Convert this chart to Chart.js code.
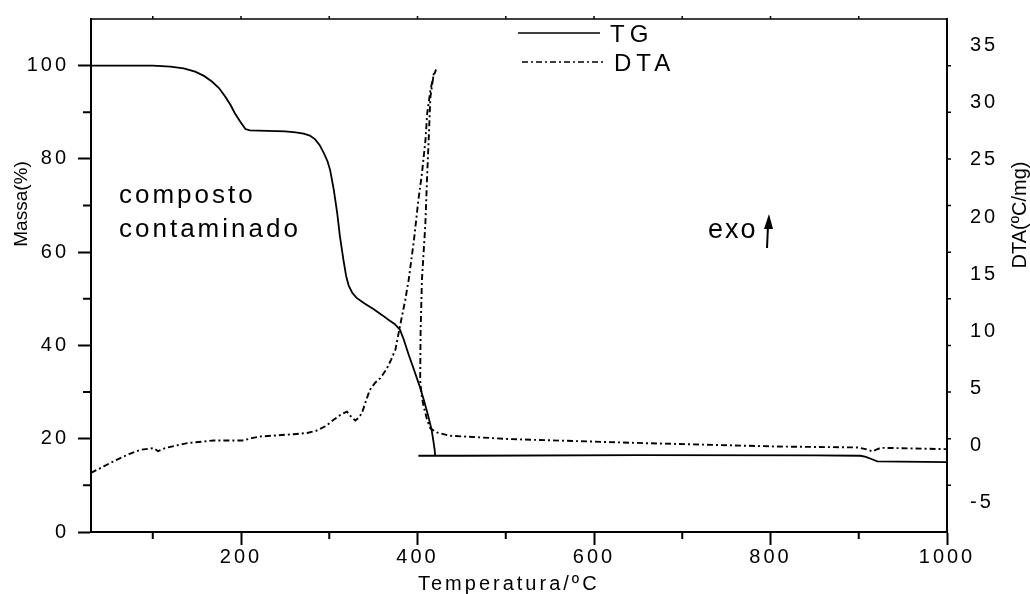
<!DOCTYPE html>
<html lang="pt">
<head>
<meta charset="UTF-8">
<title>TG / DTA - composto contaminado</title>
<script src="https://cdn.jsdelivr.net/npm/chart.js@4.4.0/dist/chart.umd.min.js"></script>
<style>
  body { margin: 0; background: #fff; }
  #wrap { width: 1030px; height: 594px; }
</style>
</head>
<body>
<div id="wrap"><canvas id="tgdta" width="1030" height="594"></canvas></div>
<script>
// curva TG: temperatura (ºC) e massa (%)
var tgTemp  = [30, 100, 120, 135, 148, 158, 167, 175, 182, 188, 193, 199, 205, 210, 230, 250, 262, 271, 278, 284, 289, 294, 298, 301, 305, 309, 312, 316, 319, 322, 326, 331, 340, 350, 360, 367, 374, 380, 384, 390, 396, 402, 407, 412, 416, 418, 419.5, 420, 401, 450, 650, 850, 902, 908, 915, 921, 1000];
var tgMassa = [100, 100, 99.8, 99.4, 98.7, 97.8, 96.6, 95.2, 93.4, 91.6, 89.8, 88, 86.4, 86.1, 86, 85.9, 85.7, 85.4, 85, 84.2, 83, 81.2, 79.5, 77.6, 73.5, 68.4, 63.5, 58.4, 55, 52.8, 51.3, 50.2, 49, 47.8, 46.5, 45.5, 44.6, 43.4, 41.5, 38, 34.8, 31.5, 28.4, 25, 21.9, 19.5, 17.5, 16.4, 16.35, 16.35, 16.5, 16.45, 16.35, 16.1, 15.6, 15.15, 15.0];

// curva DTA: temperatura (ºC) e sinal (ºC/mg)
var dtaTemp  = [30, 45, 59, 73, 86, 101, 106, 115, 139, 169, 203, 212, 222, 260, 275, 286, 296, 305, 313, 320, 325, 329.5, 333, 337, 342, 346, 352, 358, 365, 370, 375, 380, 386, 390, 396, 401, 405, 409, 411, 414.6, 418, 421, 418.3, 414.6, 412.6, 410.7, 408.9, 405, 403.5, 403, 405, 407, 411, 414.6, 422, 437, 452, 505, 656, 808, 899, 910, 915.5, 920, 925, 1000];
var dtaValor = [-2.4, -1.8, -1.25, -0.75, -0.38, -0.23, -0.5, -0.2, 0.21, 0.44, 0.44, 0.65, 0.79, 0.99, 1.1, 1.31, 1.7, 2.25, 2.7, 2.97, 2.5, 2.19, 2.4, 2.83, 4.0, 4.87, 5.5, 5.9, 6.7, 7.5, 8.4, 10.4, 12.7, 14.5, 18, 21.5, 23.8, 26.7, 29.1, 31.1, 32.3, 32.9, 32.5, 30.5, 26.7, 23.2, 19.4, 14.5, 10, 5.7, 4.2, 3.4, 2.2, 1.5, 1.14, 0.85, 0.79, 0.56, 0.21, -0.09, -0.17, -0.35, -0.52, -0.35, -0.2, -0.32];

var xTicks = [200, 400, 600, 800, 1000];
var xMinor = [100, 300, 500, 700, 900];
var massaTicks = [0, 20, 40, 60, 80, 100];
var massaMinor = [10, 30, 50, 70, 90];
var dtaTicks = [-5, 0, 5, 10, 15, 20, 25, 30, 35];

var FONT = "'Liberation Sans', Arial, sans-serif";
var TRACO = [6, 3, 2, 3];

function pares(xs, ys) {
  return xs.map(function (x, i) { return { x: x, y: ys[i] }; });
}

function texto(ctx, s, x, y, size, spacing, align) {
  ctx.font = size + 'px ' + FONT;
  ctx.letterSpacing = spacing + 'px';
  ctx.textAlign = align || 'left';
  ctx.textBaseline = 'alphabetic';
  ctx.fillStyle = '#000';
  ctx.fillText(s, x, y);
}

// sem margens extra para os rótulos das pontas
function semMargem(s) {
  s.paddingTop = 0; s.paddingBottom = 0;
  s.paddingLeft = 0; s.paddingRight = 0;
}

var deco = {
  id: 'deco',
  beforeUpdate: function (chart) { chart.ctx.letterSpacing = '3px'; },
  beforeDraw: function (chart) { chart.ctx.letterSpacing = '3px'; },
  afterDraw: function (chart) {
    var ctx = chart.ctx;
    var a = chart.chartArea;
    var sx = chart.scales.x, sy = chart.scales.y;
    ctx.save();
    ctx.strokeStyle = '#000';
    ctx.lineCap = 'butt';

    // moldura de cima
    ctx.lineWidth = 1.5;
    ctx.beginPath();
    ctx.moveTo(a.left, a.top);
    ctx.lineTo(a.right, a.top);
    ctx.stroke();

    // ticks menores
    ctx.lineWidth = 2;
    ctx.beginPath();
    massaMinor.forEach(function (v) {
      var py = sy.getPixelForValue(v);
      ctx.moveTo(a.left - 8, py); ctx.lineTo(a.left, py);
    });
    xMinor.forEach(function (v) {
      var px = sx.getPixelForValue(v);
      ctx.moveTo(px, a.bottom); ctx.lineTo(px, a.bottom + 7);
    });
    ctx.stroke();

    ctx.lineWidth = 1.5;
    ctx.beginPath();
    massaMinor.concat(massaTicks).forEach(function (v) {
      if (v <= 0) return;
      var py = sy.getPixelForValue(v);
      ctx.moveTo(a.right, py); ctx.lineTo(a.right + 4, py);
    });
    xMinor.concat(xTicks).forEach(function (v) {
      if (v >= 1000) return;
      var px = sx.getPixelForValue(v);
      ctx.moveTo(px, a.top); ctx.lineTo(px, a.top - 3);
    });
    ctx.stroke();

    // legenda
    ctx.lineWidth = 1.7;
    ctx.beginPath();
    ctx.moveTo(518, 33); ctx.lineTo(600, 33);
    ctx.stroke();
    ctx.setLineDash(TRACO);
    ctx.beginPath();
    ctx.moveTo(522, 62); ctx.lineTo(605, 62);
    ctx.stroke();
    ctx.setLineDash([]);
    texto(ctx, 'TG', 610, 42, 24, 5);
    texto(ctx, 'DTA', 614, 71, 24, 5);

    // anotações
    texto(ctx, 'composto', 119, 203, 26, 3);
    texto(ctx, 'contaminado', 119, 237, 26, 3);
    texto(ctx, 'exo', 708, 238, 27, 2);

    // seta exo
    ctx.lineWidth = 2;
    ctx.beginPath();
    ctx.moveTo(768, 226); ctx.lineTo(767, 248);
    ctx.stroke();
    ctx.fillStyle = '#000';
    ctx.beginPath();
    ctx.moveTo(769, 214); ctx.lineTo(764, 229); ctx.lineTo(773, 229);
    ctx.closePath();
    ctx.fill();

    // títulos dos eixos
    texto(ctx, 'Temperatura/ºC', 418, 590, 20, 3);

    ctx.save();
    ctx.translate(27, 204);
    ctx.rotate(-Math.PI / 2);
    texto(ctx, 'Massa(%)', 0, 0, 19, 0, 'center');
    ctx.restore();

    ctx.save();
    ctx.translate(1026, 215);
    ctx.rotate(-Math.PI / 2);
    texto(ctx, 'DTA(ºC/mg)', 0, 0, 20, 0, 'center');
    ctx.restore();

    ctx.restore();
    ctx.letterSpacing = '3px';
  }
};

var tickFont = { family: FONT, size: 20 };
function rotulo(v) { return String(v); }

new Chart(document.getElementById('tgdta').getContext('2d'), {
  type: 'scatter',
  data: {
    datasets: [
      {
        label: 'TG',
        data: pares(tgTemp, tgMassa),
        yAxisID: 'y',
        showLine: true,
        borderColor: '#000',
        borderWidth: 1.8,
        pointRadius: 0,
        fill: false
      },
      {
        label: 'DTA',
        data: pares(dtaTemp, dtaValor),
        yAxisID: 'y2',
        showLine: true,
        borderColor: '#000',
        borderWidth: 1.9,
        borderDash: TRACO,
        pointRadius: 0,
        fill: false
      }
    ]
  },
  options: {
    responsive: false,
    animation: false,
    layout: { padding: { top: 19, left: 0, right: 0, bottom: 0 } },
    plugins: { legend: { display: false }, tooltip: { enabled: false } },
    elements: { line: { tension: 0 } },
    scales: {
      x: {
        type: 'linear',
        position: 'bottom',
        min: 30,
        max: 1000,
        afterBuildTicks: function (s) { s.ticks = xTicks.map(function (v) { return { value: v }; }); },
        afterFit: function (s) { s.height = 62; semMargem(s); },
        grid: { display: true, drawOnChartArea: false, drawTicks: true, tickLength: 13, tickWidth: 2, tickColor: '#000' },
        border: { display: true, color: '#000', width: 2 },
        ticks: { color: '#000', font: tickFont, padding: 0, maxRotation: 0, autoSkip: false, callback: rotulo }
      },
      y: {
        type: 'linear',
        position: 'left',
        min: 0,
        max: 110,
        afterBuildTicks: function (s) { s.ticks = massaTicks.map(function (v) { return { value: v }; }); },
        afterFit: function (s) { s.width = 91; semMargem(s); },
        grid: { display: true, drawOnChartArea: false, drawTicks: true, tickLength: 13, tickWidth: 2, tickColor: '#000' },
        border: { display: true, color: '#000', width: 2 },
        ticks: { color: '#000', font: tickFont, padding: 9, autoSkip: false, callback: rotulo }
      },
      y2: {
        type: 'linear',
        position: 'right',
        min: -7.57,
        max: 37.33,
        afterBuildTicks: function (s) { s.ticks = dtaTicks.map(function (v) { return { value: v }; }); },
        afterFit: function (s) { s.width = 83; semMargem(s); },
        grid: { display: false, drawOnChartArea: false, drawTicks: false },
        border: { display: true, color: '#000', width: 2 },
        ticks: { color: '#000', font: tickFont, padding: 23, autoSkip: false, callback: rotulo }
      }
    }
  },
  plugins: [deco]
});
</script>
</body>
</html>
